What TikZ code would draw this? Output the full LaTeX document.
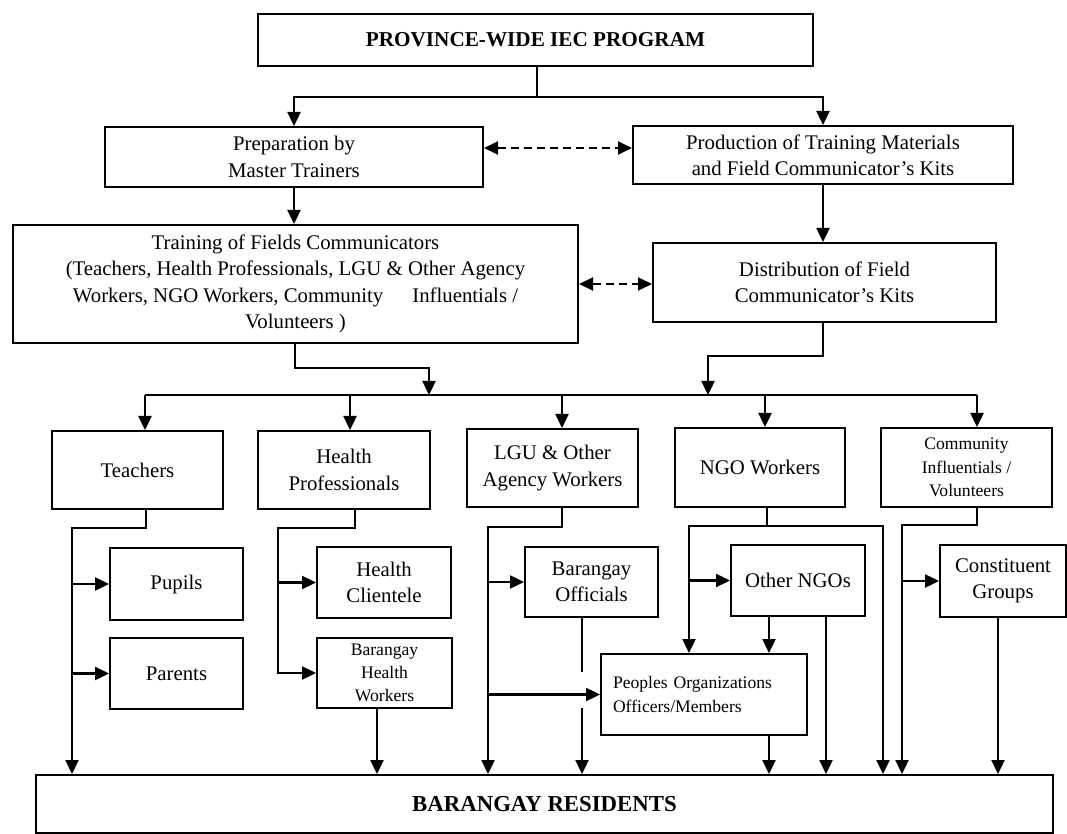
\documentclass[tikz,border=0pt]{standalone}
\usepackage{fontspec}
\setmainfont{Liberation Serif}
\usetikzlibrary{arrows.meta}
\tikzset{box/.style={draw, line width=1pt, align=center, inner sep=1pt, font=\fontsize{10.4}{13.2}\selectfont}}
\tikzset{smallbox/.style={box, font=\fontsize{8.8}{11.6}\selectfont}}
\tikzset{titlebox/.style={box, font=\fontsize{10.6}{12}\selectfont\bfseries}}
\tikzset{ln/.style={line width=1.2pt}}
\tikzset{arr/.style={line width=1.2pt, -{Triangle[length=7pt, width=6.5pt]}}}
\tikzset{darr/.style={line width=1pt, dash pattern=on 4pt off 2.5pt, {Triangle[length=7pt, width=6.5pt]}-{Triangle[length=7pt, width=6.5pt]}}}

\begin{document}
\begin{tikzpicture}[x=0.5pt, y=-0.5pt]
    \useasboundingbox (0,0) rectangle (1067,834);

    % program level
    \node[titlebox, minimum width=277.5pt, minimum height=26pt] (prog) at (535.5, 40) {PROVINCE-WIDE IEC PROGRAM};
    \node[box, minimum width=189pt, minimum height=30pt] (prep) at (294, 157) {Preparation by\\Master Trainers};
    \node[box, minimum width=190pt, minimum height=29pt] (prod) at (823, 155) {Production of Training Materials\\and Field Communicator's Kits};
    \node[box, minimum width=282.5pt, minimum height=59pt] (train) at (295.5, 284) {Training of Fields Communicators\\(Teachers, Health Professionals, LGU \& Other Agency\\Workers, NGO Workers, Community\hspace{1.4em}Influentials /\\Volunteers )};
    \node[box, minimum width=171.5pt, minimum height=39.5pt] (dist) at (824.5, 282.5) {Distribution of Field\\Communicator's Kits};

    % field communicators
    \node[box, minimum width=85.5pt, minimum height=39pt] (teach) at (137.5, 470) {Teachers};
    \node[box, minimum width=86pt, minimum height=39pt] (health) at (344, 470) {Health\\Professionals};
    \node[box, minimum width=85.5pt, minimum height=39pt] (lgu) at (552.5, 468) {LGU \& Other\\Agency Workers};
    \node[box, minimum width=85pt, minimum height=39.5pt] (ngo) at (760, 467.5) {NGO Workers};
    \node[smallbox, minimum width=85.5pt, minimum height=39.5pt] (comm) at (966.5, 467.5) {Community\\Influentials /\\Volunteers};

    % target groups
    \node[box, minimum width=66.5pt, minimum height=36pt] (pupils) at (176.5, 584) {Pupils};
    \node[box, minimum width=66.5pt, minimum height=35.5pt] (parents) at (176.5, 673.5) {Parents};
    \node[box, minimum width=67pt, minimum height=35.5pt] (hcl) at (384, 582.5) {Health\\Clientele};
    \node[smallbox, minimum width=67.5pt, minimum height=35pt, inner sep=0pt] (bhw) at (384.5, 673) {Barangay\\Health\\Workers};
    \node[box, minimum width=66.5pt, minimum height=35pt] (bof) at (591.5, 582) {Barangay\\Officials};
    \node[box, minimum width=67pt, minimum height=35.5pt] (oth) at (798, 580.5) {Other NGOs};
    \node[box, minimum width=63pt, minimum height=36pt] (con) at (1003, 581) {Constituent\\Groups};
    \node[smallbox, align=left, text width=91pt, inner xsep=6pt, minimum height=40.5pt] (poo) at (704, 694.5) {Peoples Organizations\\Officers/Members};
    \node[titlebox, font=\fontsize{11.4}{13}\selectfont\bfseries, minimum width=508.5pt, minimum height=29pt] (res) at (544.5, 804) {BARANGAY RESIDENTS};

    % top connectors
    \coordinate (j0) at (537, 97);
    \draw[ln] (prog.south -| j0) -- (j0);
    \draw[arr] (j0) -| (prep.north);
    \draw[arr] (j0) -| (prod.north);
    \coordinate (d1) at ([yshift=4.5pt]prep.east);
    \draw[darr] (d1) -- (d1 -| prod.west);
    \draw[arr] (prep.south) -- (train.north -| prep.south);
    \draw[arr] (prod.south) -- (dist.north -| prod.south);
    \draw[darr] (train.east) -- (train.east -| dist.west);

    % bus
    \coordinate (t1) at (295, 368);
    \coordinate (t2) at (429, 395);
    \coordinate (d2) at (823, 356);
    \coordinate (d3) at (708, 395);
    \draw[arr] (train.south -| t1) |- (t1 -| t2) -- (t2);
    \draw[arr] (dist.south -| d2) |- (d2 -| d3) -- (d3);
    \coordinate (b1) at (145, 395);
    \coordinate (b2) at (350, 395);
    \coordinate (b3) at (562, 395);
    \coordinate (b4) at (765, 395);
    \coordinate (b5) at (977, 395);
    \draw[ln] (b1) -- (b5);
    \foreach \b/\n in {b1/teach, b2/health, b3/lgu, b4/ngo, b5/comm}
        \draw[arr] (\b) -- (\b |- \n.north);

    % teachers
    \coordinate (tc) at (146, 528);
    \coordinate (tl) at (72, 528);
    \draw[arr] (teach.south -| tc) -- (tc) -- (tl) -- (tl |- res.north);
    \draw[arr] (pupils.west -| tl) -- (pupils.west);
    \draw[arr] (parents.west -| tl) -- (parents.west);

    % health professionals
    \coordinate (hc) at (355, 528);
    \coordinate (hl) at (278, 528);
    \coordinate (hb) at (377, 0);
    \draw[arr] (health.south -| hc) -- (hc) -- (hl) |- (bhw.west);
    \draw[arr] (hcl.west -| hl) -- (hcl.west);
    \draw[arr] (bhw.south -| hb) -- (res.north -| hb);

    % lgu
    \coordinate (lc) at (562, 527);
    \coordinate (ll) at (488, 527);
    \coordinate (bx) at (582, 672);
    \coordinate (by) at (582, 708);
    \draw[arr] (lgu.south -| lc) -- (lc) -- (ll) -- (ll |- res.north);
    \draw[arr] (bof.west -| ll) -- (bof.west);
    \draw[arr] (poo.west -| ll) -- (poo.west);
    \draw[ln] (bof.south -| bx) -- (bx);
    \draw[arr] (by) -- (by |- res.north);

    % ngo
    \coordinate (nc) at (767, 526);
    \coordinate (nl) at (689, 526);
    \coordinate (nr) at (883, 526);
    \coordinate (o1) at (769, 0);
    \coordinate (o2) at (826, 0);
    \draw[ln] (ngo.south -| nc) -- (nc);
    \draw[arr] (nc) -- (nl) -- (nl |- poo.north);
    \draw[arr] (nc) -- (nr) -- (nr |- res.north);
    \draw[arr] (oth.west -| nl) -- (oth.west);
    \draw[arr] (oth.south -| o1) -- (poo.north -| o1);
    \draw[arr] (oth.south -| o2) -- (res.north -| o2);
    \draw[arr] (poo.south -| o1) -- (res.north -| o1);

    % community
    \coordinate (cc) at (977, 525);
    \coordinate (cl) at (902, 525);
    \coordinate (c2) at (998, 0);
    \draw[arr] (comm.south -| cc) -- (cc) -- (cl) -- (cl |- res.north);
    \draw[arr] (con.west -| cl) -- (con.west);
    \draw[arr] (con.south -| c2) -- (res.north -| c2);
\end{tikzpicture}
\end{document}
